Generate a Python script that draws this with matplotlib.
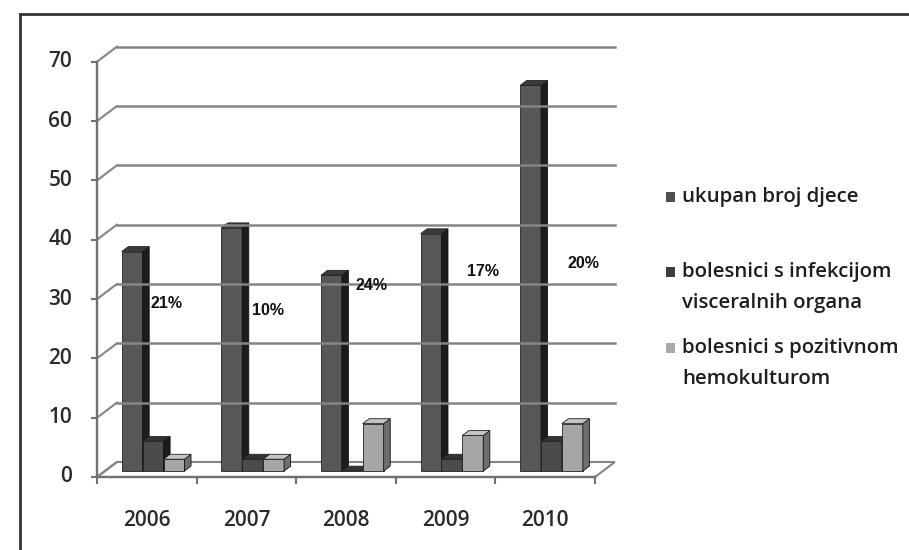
import numpy as np
import matplotlib
matplotlib.use("Agg")
import matplotlib.pyplot as plt
from matplotlib.patches import Polygon, Rectangle
from matplotlib.lines import Line2D

years = ["2006", "2007", "2008", "2009", "2010"]
ukupno = [37, 41, 33, 40, 65]          # ukupan broj djece
visceralni = [5, 2, 0, 2, 5]           # infekcija visceralnih organa
hemokultura = [2, 2, 8, 6, 8]          # pozitivna hemokultura
postotci = ["21%", "10%", "24%", "17%", "20%"]
yticks = [0, 10, 20, 30, 40, 50, 60, 70]

series = [ukupno, visceralni, hemokultura]
labels = [["ukupan broj djece"],
          ["bolesnici s infekcijom", "visceralnih organa"],
          ["bolesnici s pozitivnom", "hemokulturom"]]

# front / side / top face colours for each series
faces = [("#575757", "#1c1c1c", "#3a3a3a"),
         ("#4b4b4b", "#1a1a1a", "#333333"),
         ("#a6a6a6", "#6e6e6e", "#c4c4c4")]
legend_col = ["#4f4f4f", "#3c3c3c", "#a8a8a8"]

# pseudo-3D geometry in data units
DX, DY = 0.2, 2.53          # full floor depth
BX, BY = 0.066, 0.83        # bar depth
BASE = 1.0                  # bars sit slightly behind the front edge
BAR_W = 0.21
BAR0 = 0.248
# where the percentage captions sit inside each category
pct_pos = [(0.70, 29.3), (0.72, 28.1), (0.76, 32.3), (0.88, 34.7), (0.88, 36.0)]

W, H = 909, 550
fig = plt.figure(figsize=(W / 100, H / 100), dpi=100)
ax = fig.add_axes([97 / W, (H - 477) / H, 498 / W, (477 - 61.7) / H])
ax.set_xlim(0, len(years))
ax.set_ylim(0, 70)
ax.axis("off")

grid_c = "#858585"
axis_c = "#707070"
txt_font = "Open Sans"
n = len(years)

# floor
ax.add_patch(Polygon([(0, 0), (n, 0), (n + DX, DY), (DX, DY)], closed=True,
                     facecolor="white", edgecolor=grid_c, lw=1.5, clip_on=False))
ax.plot([0, n], [0, 0], color=axis_c, lw=1.7, clip_on=False)
for i in range(n + 1):
    ax.plot([i, i], [0, -1.0], color=axis_c, lw=1.5, clip_on=False)

# back wall gridlines and left wall
for v in yticks:
    if v > 0:
        ax.plot([DX, n + DX], [v + DY, v + DY], color=grid_c, lw=1.8, clip_on=False)
    ax.plot([0, DX], [v, v + DY], color=grid_c, lw=1.5, clip_on=False)
    ax.plot([-0.05, 0], [v, v], color=axis_c, lw=1.5, clip_on=False)
    ax.text(-0.25, v, str(v), ha="right", va="center", fontsize=15,
            family=txt_font, fontweight="semibold", color="#2a2a2a")
ax.plot([0, 0], [0, 70], color=axis_c, lw=1.7, clip_on=False)


def bar3d(x0, h, cols):
    front, side, top = cols
    y0, y1 = BASE, BASE + h
    ax.add_patch(Polygon([(x0, y0), (x0 + BAR_W, y0), (x0 + BAR_W, y1), (x0, y1)],
                         closed=True, facecolor=front, edgecolor="#222222",
                         lw=0.6, clip_on=False))
    ax.add_patch(Polygon([(x0 + BAR_W, y0), (x0 + BAR_W + BX, y0 + BY),
                          (x0 + BAR_W + BX, y1 + BY), (x0 + BAR_W, y1)],
                         closed=True, facecolor=side, edgecolor="#111111",
                         lw=0.6, clip_on=False))
    ax.add_patch(Polygon([(x0, y1), (x0 + BAR_W, y1), (x0 + BAR_W + BX, y1 + BY),
                          (x0 + BX, y1 + BY)],
                         closed=True, facecolor=top, edgecolor="#222222",
                         lw=0.6, clip_on=False))


for i in range(n):
    for s, vals in enumerate(series):
        bar3d(i + BAR0 + s * BAR_W, vals[i], faces[s])
    px, py = pct_pos[i]
    ax.text(i + px, py, postotci[i], ha="center", va="center", fontsize=11.5,
            fontweight="bold", family="Liberation Sans", color="#111111")
    ax.text(i + 0.5, -7.4, years[i], ha="center", va="center", fontsize=15,
            family=txt_font, fontweight="semibold", color="#2a2a2a")

# legend
leg_y = [197, 272, 348]
line_gap = 31
for s in range(3):
    fig.patches.append(Rectangle((666 / W, (H - leg_y[s] - 5) / H), 9 / W, 10 / H,
                                 transform=fig.transFigure, facecolor=legend_col[s],
                                 edgecolor="none"))
    for k, line in enumerate(labels[s]):
        fig.text(682 / W, (H - leg_y[s] - k * line_gap) / H, line, ha="left",
                 va="center", fontsize=14.7, family=txt_font,
                 fontweight="semibold", color="#1e1e1e")

# frame around the chart area
fig.add_artist(Line2D([20 / W, 20 / W], [0, (H - 14) / H], color="#333333", lw=2,
                      transform=fig.transFigure))
fig.add_artist(Line2D([20 / W, 1], [(H - 14) / H, (H - 14) / H], color="#333333", lw=2,
                      transform=fig.transFigure))

fig.savefig("out.png", dpi=100)
